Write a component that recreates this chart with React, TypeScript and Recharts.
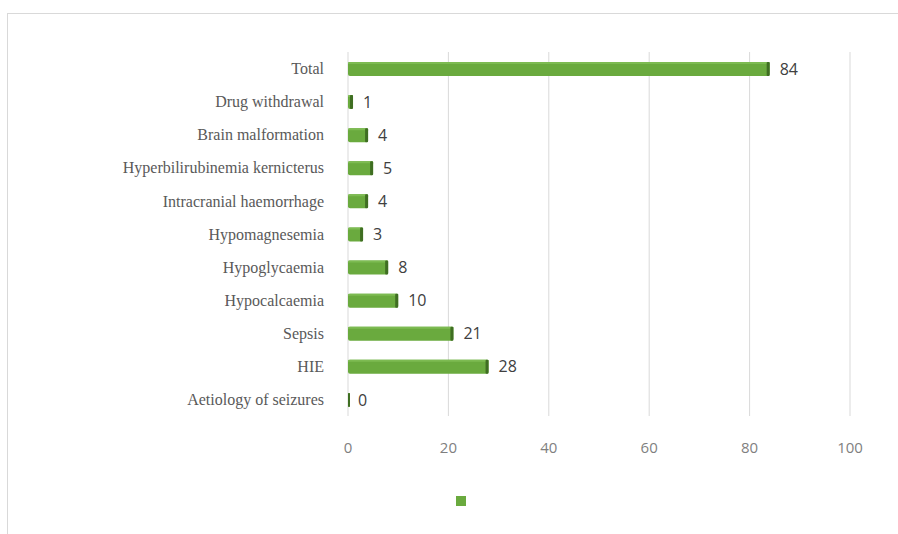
import { BarChart, Bar, XAxis, YAxis, CartesianGrid, LabelList, Legend } from "recharts"

const categories = [
  "Total",
  "Drug withdrawal",
  "Brain malformation",
  "Hyperbilirubinemia kernicterus",
  "Intracranial haemorrhage",
  "Hypomagnesemia",
  "Hypoglycaemia",
  "Hypocalcaemia",
  "Sepsis",
  "HIE",
  "Aetiology of seizures",
]
const counts = [84, 1, 4, 5, 4, 3, 8, 10, 21, 28, 0]
const xTicks = [0, 20, 40, 60, 80, 100]

const data = categories.map((name, i) => ({ name, value: counts[i] }))

// flat cylinder look: green body with a darker cap at the end
const CylBar = (props: any) => {
  const { x, y, width, height } = props
  const w = Math.max(width, 2)
  const cap = Math.min(3, w)
  return (
    <g>
      <rect x={x} y={y} width={w} height={height} rx={2} fill="#6aaa3e" />
      <rect x={x} y={y} width={w} height={2} rx={1} fill="#7dbb52" />
      <rect x={x + w - cap} y={y} width={cap} height={height} rx={1} fill="#3f6e22" />
    </g>
  )
}

export default function App() {
  return (
    <div style={{ position: "absolute", left: 0, top: 0, width: 898, height: 534, overflow: "hidden", background: "#fff" }}>
      <div style={{ position: "absolute", left: 7, top: 13, width: 930, height: 560, border: "1px solid #d9d9d9" }} />
      <div style={{ position: "absolute", left: 0, top: 0 }}>
        <BarChart width={898} height={534} data={data} layout="vertical"
          margin={{ top: 52, right: 48, left: 0, bottom: 68 }} barCategoryGap={10}>
          <CartesianGrid horizontal={false} stroke="#d9d9d9" />
          <XAxis type="number" domain={[0, 100]} ticks={xTicks} axisLine={false} tickLine={false}
            height={40} tickMargin={20}
            tick={{ fontFamily: "Open Sans", fontSize: 15, fill: "#7f7f7f" }} />
          <YAxis type="category" dataKey="name" width={348} axisLine={false} tickLine={false}
            tickMargin={18} interval={0}
            tick={{ fontFamily: "Liberation Serif", fontSize: 16, fill: "#595959" }} />
          <Legend verticalAlign="bottom" wrapperStyle={{ left: 456, top: 496, width: 14 }}
            content={() => <div style={{ width: 10, height: 10, background: "#6aaa3e" }} />} />
          <Bar dataKey="value" name=" " barSize={14} shape={CylBar} isAnimationActive={false}>
            <LabelList dataKey="value" position="right" offset={10}
              style={{ fontFamily: "Open Sans", fontSize: 16, fill: "#404040" }} />
          </Bar>
        </BarChart>
      </div>
    </div>
  )
}
